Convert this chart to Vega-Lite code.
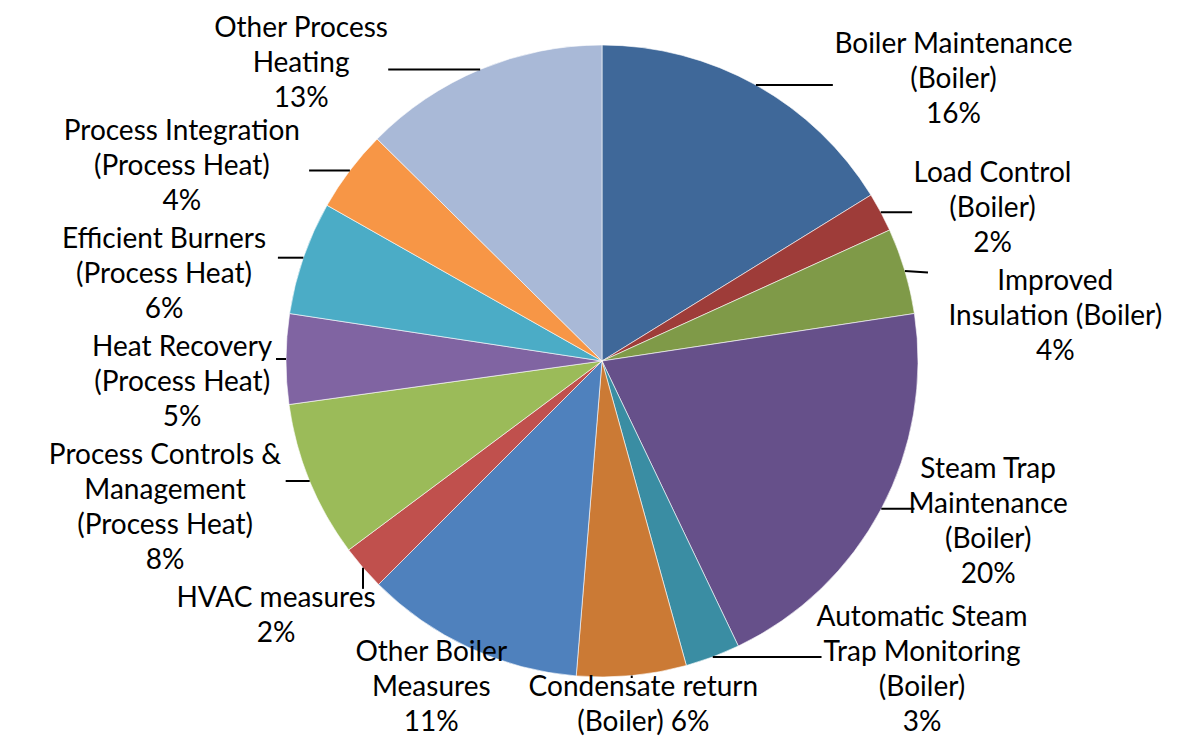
{
  "$schema": "https://vega.github.io/schema/vega-lite/v6.json",
  "width": 1198,
  "height": 718,
  "autosize": {"type": "none"},
  "padding": {"left": 3, "top": 2, "right": 0, "bottom": 20},
  "background": "#ffffff",
  "config": {"view": {"stroke": null}},
  "data": {
    "values": [
      {"idx": 1, "cat": "Boiler Maintenance (Boiler)", "label": "Boiler Maintenance\n(Boiler)\n16%", "value": 16.2},
      {"idx": 2, "cat": "Load Control (Boiler)", "label": "Load Control\n(Boiler)\n2%", "value": 2.0},
      {"idx": 3, "cat": "Improved Insulation (Boiler)", "label": "Improved\nInsulation (Boiler)\n4%", "value": 4.4},
      {"idx": 4, "cat": "Steam Trap Maintenance (Boiler)", "label": "Steam Trap\nMaintenance\n(Boiler)\n20%", "value": 20.3},
      {"idx": 5, "cat": "Automatic Steam Trap Monitoring (Boiler)", "label": "Automatic Steam\nTrap Monitoring\n(Boiler)\n3%", "value": 2.8},
      {"idx": 6, "cat": "Condensate return (Boiler)", "label": "Condensate return\n(Boiler) 6%", "value": 5.6},
      {"idx": 7, "cat": "Other Boiler Measures", "label": "Other Boiler\nMeasures\n11%", "value": 11.2},
      {"idx": 8, "cat": "HVAC measures", "label": "HVAC measures\n2%", "value": 2.3},
      {"idx": 9, "cat": "Process Controls & Management (Process Heat)", "label": "Process Controls &\nManagement\n(Process Heat)\n8%", "value": 8.0},
      {"idx": 10, "cat": "Heat Recovery (Process Heat)", "label": "Heat Recovery\n(Process Heat)\n5%", "value": 4.6},
      {"idx": 11, "cat": "Efficient Burners (Process Heat)", "label": "Efficient Burners\n(Process Heat)\n6%", "value": 5.8},
      {"idx": 12, "cat": "Process Integration (Process Heat)", "label": "Process Integration\n(Process Heat)\n4%", "value": 4.2},
      {"idx": 13, "cat": "Other Process Heating", "label": "Other Process\nHeating\n13%", "value": 12.6}
    ]
  },
  "transform": [
    {"window": [{"op": "sum", "field": "value", "as": "cum"}], "sort": [{"field": "idx", "order": "ascending"}], "frame": [null, 0]},
    {"joinaggregate": [{"op": "sum", "field": "value", "as": "tot"}]},
    {"calculate": "2*PI*(datum.cum - datum.value/2)/datum.tot", "as": "mid"},
    {"calculate": "sin(datum.mid)", "as": "s"},
    {"calculate": "cos(datum.mid)", "as": "c"},
    {"calculate": "split(datum.label, '\\n')", "as": "lines"},
    {"calculate": "length(datum.lines)", "as": "nl"},
    {"calculate": "max(length(datum.lines[0]), datum.nl > 1 ? length(datum.lines[1]) : 0, datum.nl > 2 ? length(datum.lines[2]) : 0, datum.nl > 3 ? length(datum.lines[3]) : 0)", "as": "mc"},
    {"calculate": "6.7*datum.mc", "as": "hw"},
    {"calculate": "17.5*(datum.nl - 1) + 16", "as": "he"},
    {"calculate": "datum.mid*180/PI", "as": "deg"},
    {"calculate": "datum.deg < 30 || datum.deg > 330 ? 'T' + datum.idx : (datum.deg >= 165 && datum.deg <= 215 ? 'B' : (datum.s >= 0 ? 'R' : 'L'))", "as": "grp"},
    {"calculate": "datum.grp == 'L' ? -datum.idx : datum.idx", "as": "ord"},
    {"calculate": "min(datum.c >= 0 ? 322*datum.c : 345*datum.c, 351 - datum.he)", "as": "dt"},
    {"calculate": "2*datum.he + 6", "as": "step"},
    {"window": [{"op": "sum", "field": "step", "as": "incl"}], "groupby": ["grp"], "sort": [{"field": "ord", "order": "ascending"}], "frame": [null, 0]},
    {"calculate": "datum.incl - datum.he - 6", "as": "T"},
    {"calculate": "datum.dt + datum.T", "as": "z1"},
    {"window": [{"op": "min", "field": "z1", "as": "m1"}], "groupby": ["grp"], "sort": [{"field": "ord", "order": "ascending"}], "frame": [null, 0]},
    {"calculate": "max(datum.m1 - datum.T, datum.he - 378) + datum.T", "as": "z2"},
    {"window": [{"op": "max", "field": "z2", "as": "m2"}], "groupby": ["grp"], "sort": [{"field": "ord", "order": "ascending"}], "frame": [0, null]},
    {"calculate": "datum.m2 - datum.T", "as": "y2"},
    {"calculate": "datum.y2 - datum.he > 0 ? datum.y2 - datum.he : (datum.y2 + datum.he < 0 ? datum.y2 + datum.he : 0)", "as": "yn"},
    {"calculate": "datum.grp == 'B' ? (326 + datum.hw)*datum.s : (datum.s >= 0 ? 1 : -1)*(datum.hw + sqrt(max(0, 326*326 - datum.yn*datum.yn)))", "as": "lx"},
    {"calculate": "datum.grp == 'B' ? datum.he - 378 : datum.y2", "as": "ly"},
    {"calculate": "datum.ly + 17.5*(datum.nl - 1)", "as": "ty"},
    {"calculate": "316*datum.s", "as": "ex"},
    {"calculate": "316*datum.c", "as": "ey"},
    {"calculate": "clamp(datum.ex, datum.lx - datum.hw, datum.lx + datum.hw)", "as": "fx"},
    {"calculate": "clamp(datum.ey, datum.ly - datum.he + 6, datum.ly + datum.he - 6)", "as": "fy"}
  ],
  "layer": [
    {
      "mark": {"type": "arc", "radius": 316, "stroke": "#ffffff", "strokeWidth": 0.6},
      "encoding": {
        "theta": {"field": "value", "type": "quantitative", "stack": true},
        "order": {"field": "idx", "type": "quantitative"},
        "color": {
          "field": "cat",
          "type": "nominal",
          "legend": null,
          "scale": {
            "domain": ["Boiler Maintenance (Boiler)", "Load Control (Boiler)", "Improved Insulation (Boiler)", "Steam Trap Maintenance (Boiler)", "Automatic Steam Trap Monitoring (Boiler)", "Condensate return (Boiler)", "Other Boiler Measures", "HVAC measures", "Process Controls & Management (Process Heat)", "Heat Recovery (Process Heat)", "Efficient Burners (Process Heat)", "Process Integration (Process Heat)", "Other Process Heating"],
            "range": ["#3F6899", "#9E3C39", "#7F9A48", "#66508A", "#3A8DA3", "#CB7A35", "#4F81BD", "#C0504D", "#9BBB59", "#8064A2", "#4BACC6", "#F79646", "#A9B9D7"]
          }
        }
      }
    },
    {
      "mark": {"type": "rule", "color": "#000000", "strokeWidth": 2},
      "encoding": {
        "x": {"field": "ex", "type": "quantitative", "scale": {"domain": [-599, 599], "nice": false, "zero": false}, "axis": null},
        "y": {"field": "ey", "type": "quantitative", "scale": {"domain": [-359, 359], "nice": false, "zero": false}, "axis": null},
        "x2": {"field": "fx"},
        "y2": {"field": "fy"}
      }
    },
    {
      "mark": {"type": "text", "font": "Lato", "fontSize": 28, "lineHeight": 35, "lineBreak": "\n", "align": "center", "baseline": "middle", "color": "#000000"},
      "encoding": {
        "x": {"field": "lx", "type": "quantitative", "scale": {"domain": [-599, 599], "nice": false, "zero": false}, "axis": null},
        "y": {"field": "ty", "type": "quantitative", "scale": {"domain": [-359, 359], "nice": false, "zero": false}, "axis": null},
        "text": {"field": "label", "type": "nominal"}
      }
    }
  ]
}
